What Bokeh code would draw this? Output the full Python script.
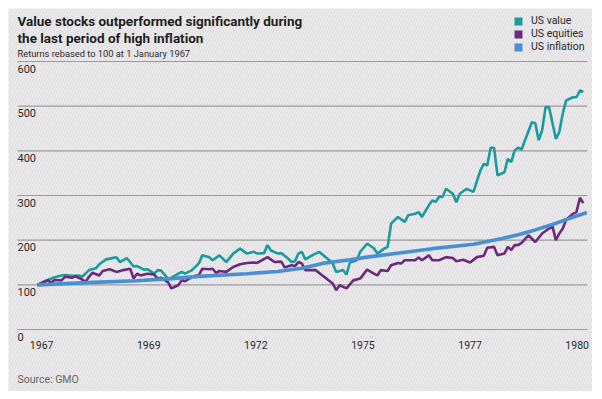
from bokeh.plotting import figure
from bokeh.models import Label, Legend, LegendItem, Range1d, BoxAnnotation
from bokeh.core.properties import value
from bokeh.embed import file_html
from bokeh.resources import INLINE

# ---- data (months since January 1967, returns rebased to 100) ----
value_months = [0,2,5,7,8,10,12,13,15,17,18,20,23,24,26,28,29,31,32,34,35,36,38,39,42,43,45,47,48,50,
                51,53,55,57,59,61,63,64,66,67,68,70,71,73,74,75,76,77,78,80,82,83,85,86,87,89,90,91,93,94,
                96,98,99,101,102,103,105,107,108,110,111,112,114,115,116,117,118,119,121,122,123,125,127,129,130,131,132,133,134,136,
                137,138,139,140,141,144,145,146,147,148,149,151,152,153,154,156,157,158,159]
us_value = [100,108,117,121,122,120,121,118,133,137,146,157,162,151,160,141,142,134,135,125,133,132,114,116,129,125,133,148,166,162,
            155,166,151,170,181,170,174,170,171,189,177,170,171,159,151,153,170,174,157,166,174,168,155,148,129,133,123,150,155,174,
            192,182,170,181,185,237,252,241,256,259,263,252,278,289,286,297,297,315,304,285,304,315,308,356,371,367,407,407,345,352,
            382,375,401,407,403,464,462,424,446,498,498,427,442,483,513,520,520,535,532]

equity_months = [0,3,4,5,7,8,10,11,12,14,15,16,18,19,21,23,25,27,28,29,30,32,34,35,36,38,39,41,42,43,
                 45,47,48,50,51,52,53,55,57,59,61,63,64,67,69,71,72,74,75,76,77,78,81,83,86,87,88,90,92,94,
                 96,98,99,100,102,103,105,106,107,110,111,112,114,115,117,119,121,122,124,126,128,130,131,133,134,136,137,138,139,140,
                 141,143,145,147,149,150,151,152,153,154,156,157,158,159]
us_equities = [99,110,105,111,110,118,116,119,116,107,118,127,121,131,135,129,133,136,114,125,121,125,123,114,116,106,92,99,110,108,
               118,122,136,135,136,127,131,129,140,146,149,150,149,162,151,152,139,144,142,151,148,133,133,121,103,88,99,92,110,114,
               134,125,121,133,131,144,149,148,155,155,161,155,166,155,155,162,160,153,156,150,162,165,183,185,166,170,185,178,189,189,
               194,211,196,215,226,231,200,215,226,246,259,263,295,283]

inflation_months = [0,18,29,39,47,61,70,77,83,91,96,106,115,127,135,140,145,150,154,160]
us_inflation = [100,106,109,114,119,125,130,137,148,156,162,172,181,191,203,212,223,235,246,262]

y_ticks = [0, 100, 200, 300, 400, 500, 600]
y_tick_labels = ["0", "100", "200", "300", "400", "500", "600"]
x_tick_months = [1.2, 32.4, 63.6, 94.8, 126.0, 157.2]
x_tick_labels = ["1967", "1969", "1972", "1975", "1977", "1980"]

series_names = ["US value", "US equities", "US inflation"]
colors = ["#1a9c9d", "#6b2a7b", "#4a8fd2"]

FONT = "Roboto"
BG = "#e3e1e4"
TXT = "#2b2b2b"

W, H = 584, 383
# the frame fills the whole canvas; the plot area runs from month -5.83 to 160.2 and 0 to 600
GX0, GX1 = -5.83, 160.2
p = figure(width=W, height=H, output_backend="svg", toolbar_location=None,
           x_range=Range1d(-8.45, 161.67), y_range=Range1d(-138.8, 718.7),
           min_border=0, margin=(8, 8, 8, 8))
p.background_fill_color = BG
p.border_fill_color = BG
p.outline_line_color = None
p.axis.visible = False
p.grid.visible = False

# subtle diagonal hatch over the whole panel
p.add_layout(BoxAnnotation(fill_alpha=0, line_alpha=0, hatch_pattern="/", hatch_color="#f4f3f5",
                           hatch_alpha=0.7, hatch_scale=6, hatch_weight=1, level="underlay"))

# gridlines
p.segment(x0=[GX0] * len(y_ticks), x1=[GX1] * len(y_ticks), y0=y_ticks, y1=y_ticks,
          line_color="#9b9b9d", line_width=1.2)

# y tick labels, under the gridlines at the left
p.text(x=[GX0] * len(y_ticks), y=y_ticks, text=y_tick_labels,
       text_baseline="top", text_align="left", y_offset=3,
       text_font=value(FONT), text_font_size="11px", text_color=TXT)

# x tick labels
p.text(x=x_tick_months, y=[0] * len(x_tick_months), text=x_tick_labels,
       text_baseline="middle", text_align="center", y_offset=15,
       text_font=value(FONT), text_font_size="10.5px", text_color=TXT)

r_val = p.line(value_months, us_value, line_color=colors[0], line_width=2.6)
r_eq = p.line(equity_months, us_equities, line_color=colors[1], line_width=2.6)
r_inf = p.line(inflation_months, us_inflation, line_color=colors[2], line_width=3.6)

# legend with square swatches (placeholder rects, not visible in the plot area)
nan = float("nan")
sw = [p.rect(x=[0], y=[nan], width=1, height=1, fill_color=c, line_color=None) for c in colors]
legend = Legend(items=[LegendItem(label=n, renderers=[r]) for n, r in zip(series_names, sw)],
                location=(505, 338), orientation="vertical",
                glyph_width=10, glyph_height=10, label_standoff=8, spacing=-4, padding=0, margin=0,
                label_height=10, background_fill_alpha=0, border_line_color=None,
                label_text_font=FONT, label_text_font_size="10.5px", label_text_color=TXT)
p.add_layout(legend, "center")

# titles
TITLE_KW = dict(x_units="screen", y_units="screen", text_font=FONT, text_font_size="13.5px",
                text_font_style="bold", text_color="#1e1e1e", text_baseline="top")
p.add_layout(Label(x=9, y=379, text="Value stocks outperformed significantly during", **TITLE_KW))
p.add_layout(Label(x=9, y=362, text="the last period of high inflation", **TITLE_KW))
p.add_layout(Label(x=9, y=344, x_units="screen", y_units="screen",
                   text="Returns rebased to 100 at 1 January 1967",
                   text_font=FONT, text_font_size="9.3px", text_color=TXT, text_baseline="top"))
p.add_layout(Label(x=9, y=12, x_units="screen", y_units="screen",
                   text="Source: GMO",
                   text_font=FONT, text_font_size="10.5px", text_color="#666666",
                   text_baseline="alphabetic"))

open("out.html", "w").write(file_html(p, INLINE))
